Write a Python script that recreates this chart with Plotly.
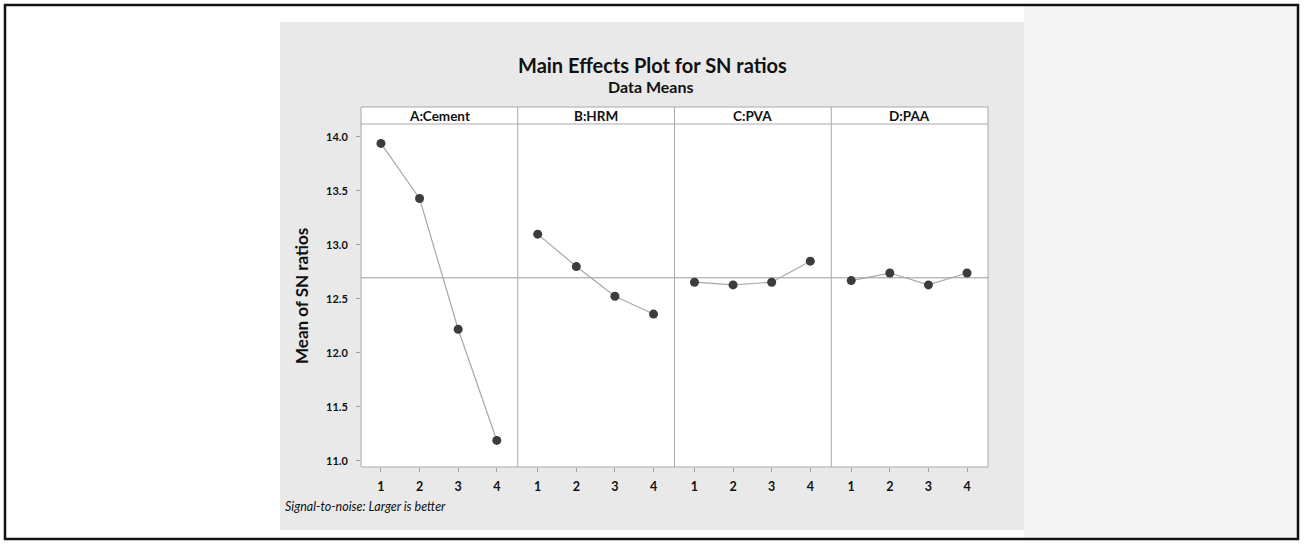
import plotly.graph_objects as go

W, H = 1304, 548

factors = ["A:Cement", "B:HRM", "C:PVA", "D:PAA"]
levels = [1, 2, 3, 4]
sn_A = [13.94, 13.43, 12.22, 11.19]
sn_B = [13.10, 12.80, 12.525, 12.36]
sn_C = [12.655, 12.63, 12.655, 12.85]
sn_D = [12.67, 12.74, 12.63, 12.74]
series = [sn_A, sn_B, sn_C, sn_D]
y_ticks = [11.0, 11.5, 12.0, 12.5, 13.0, 13.5, 14.0]
grand_mean = sum(sn_A + sn_B + sn_C + sn_D) / 16

def px(x):
    return x / W

def py(y):
    return 1 - y / H

FONT = "Lato"
plot_l, plot_r, plot_t, plot_b, strip_t = 361, 988, 124, 467, 107
pw = (plot_r - plot_l) / 4

fig = go.Figure()
for i, (f, vals) in enumerate(zip(factors, series)):
    xa = "x" if i == 0 else f"x{i+1}"
    fig.add_trace(go.Scatter(
        x=[0.483, 4.543], y=[grand_mean, grand_mean], mode="lines", xaxis=xa, yaxis="y",
        line=dict(color="#9a9a9a", width=1), showlegend=False, hoverinfo="skip"))
    fig.add_trace(go.Scatter(
        x=levels, y=vals, mode="lines+markers", xaxis=xa, yaxis="y",
        line=dict(color="#a8a8a8", width=1.2),
        marker=dict(color="#3c3c3c", size=9),
        showlegend=False, hoverinfo="x+y"))

layout = dict(
    width=W, height=H, margin=dict(l=0, r=0, t=0, b=0),
    paper_bgcolor="white", plot_bgcolor="white",
    yaxis=dict(domain=[py(plot_b), py(plot_t)], range=[10.944, 14.12],
               tickvals=y_ticks, ticktext=[f"{v:.1f}" for v in y_ticks],
               ticks="outside", ticklen=4, tickcolor="#a0a0a0", showgrid=False, zeroline=False,
               ticklabelstandoff=6,
               tickfont=dict(family=FONT, size=11, color="#111", weight="bold"), anchor="x",
               showline=False, fixedrange=True),
)
for i in range(4):
    key = "xaxis" if i == 0 else f"xaxis{i+1}"
    d0 = px(plot_l + i * pw)
    d1 = px(plot_l + (i + 1) * pw)
    layout[key] = dict(domain=[d0, d1], range=[0.483, 4.543], anchor="y",
                       tickvals=levels, ticktext=[str(v) for v in levels],
                       ticks="outside", ticklen=4, tickcolor="#a0a0a0",
                       showgrid=False, zeroline=False, showline=False,
                       ticklabelstandoff=4,
                       tickfont=dict(family=FONT, size=12.5, color="#111", weight="bold"), fixedrange=True)
fig.update_layout(**layout)

shapes = []
shapes.append(dict(type="rect", xref="paper", yref="paper", x0=px(1024), x1=px(1297), y0=py(539), y1=py(6),
                   fillcolor="#f4f4f4", line=dict(width=0), layer="below"))
shapes.append(dict(type="rect", xref="paper", yref="paper", x0=px(280), x1=px(1024), y0=py(530), y1=py(22),
                   fillcolor="#e9e9e9", line=dict(width=0), layer="below"))
shapes.append(dict(type="rect", xref="paper", yref="paper", x0=px(plot_l), x1=px(plot_r), y0=py(plot_b), y1=py(strip_t),
                   fillcolor="white", line=dict(color="#a8a8a8", width=1), layer="below"))
shapes.append(dict(type="line", xref="paper", yref="paper", x0=px(plot_l), x1=px(plot_r), y0=py(plot_t), y1=py(plot_t),
                   line=dict(color="#a8a8a8", width=1)))
for i in range(1, 4):
    xx = px(plot_l + i * pw)
    shapes.append(dict(type="line", xref="paper", yref="paper", x0=xx, x1=xx, y0=py(plot_b), y1=py(strip_t),
                       line=dict(color="#a8a8a8", width=1)))
shapes.append(dict(type="rect", xref="paper", yref="paper", x0=px(5), x1=px(1298), y0=py(539), y1=py(5),
                   fillcolor="rgba(0,0,0,0)", line=dict(color="#111", width=2.5)))
fig.update_layout(shapes=shapes)

ann = []
ann.append(dict(text="<b>Main Effects Plot for SN ratios</b>", x=px(652), y=py(65), xref="paper", yref="paper",
                showarrow=False, font=dict(family=FONT, size=20, color="#111"), xanchor="center", yanchor="middle"))
ann.append(dict(text="<b>Data Means</b>", x=px(651), y=py(87), xref="paper", yref="paper",
                showarrow=False, font=dict(family=FONT, size=16, color="#111"), xanchor="center", yanchor="middle"))
for i, f in enumerate(factors):
    ann.append(dict(text=f"<b>{f}</b>", x=px(plot_l + (i + 0.5) * pw), y=py(115.5), xref="paper", yref="paper",
                    showarrow=False, font=dict(family=FONT, size=13.5, color="#111"), xanchor="center", yanchor="middle"))
ann.append(dict(text="<b>Mean of SN ratios</b>", x=px(301), y=py(296), xref="paper", yref="paper", textangle=-90,
                showarrow=False, font=dict(family=FONT, size=17, color="#111"), xanchor="center", yanchor="middle"))
ann.append(dict(text="<i>Signal-to-noise: Larger is better</i>", x=px(283), y=py(506), xref="paper", yref="paper",
                showarrow=False, font=dict(family=FONT, size=12.5, color="#111"), xanchor="left", yanchor="middle"))
fig.update_layout(annotations=ann)

fig.write_html("out.html", post_script="document.body.style.margin='0px';",
               config={"displayModeBar": False})
